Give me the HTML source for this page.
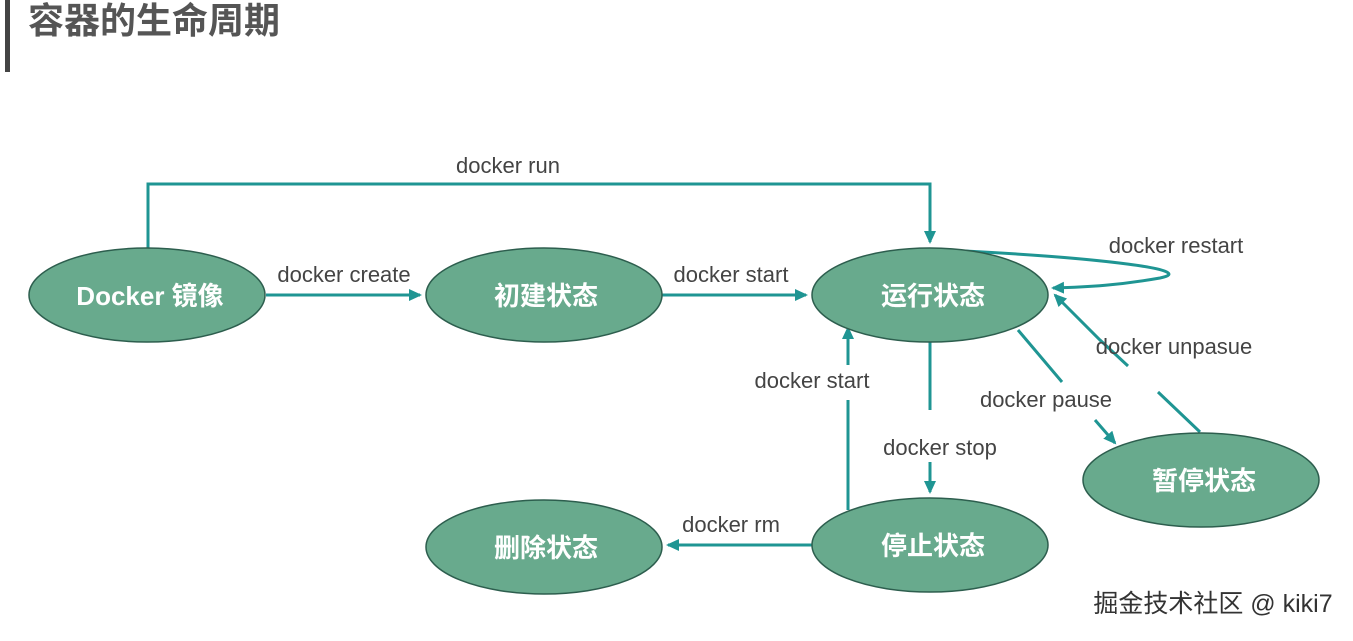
<!DOCTYPE html>
<html><head><meta charset="utf-8"><style>
body{margin:0;width:1353px;height:636px;background:#fff;overflow:hidden;font-family:"Liberation Sans","Noto Sans CJK SC",sans-serif}
</style></head><body>
<svg width="1353" height="636" xmlns="http://www.w3.org/2000/svg">
<defs><marker id="a" markerWidth="14" markerHeight="14" refX="11" refY="7" orient="auto" markerUnits="userSpaceOnUse"><path d="M0,1 L13,7 L0,13 z" fill="#1f9593"/></marker></defs>
<rect x="5" y="0" width="5" height="72" fill="#444"/>
<text x="28" y="33" font-size="36" font-weight="bold" fill="#555" font-family="Noto Sans CJK SC,sans-serif">容器的生命周期</text>
<g stroke="#1f9593" stroke-width="3" fill="none">
<path d="M148 248 V184 H930 V242" marker-end="url(#a)"/>
<path d="M266 295 H420" marker-end="url(#a)"/>
<path d="M662 295 H806" marker-end="url(#a)"/>
<path d="M965 251 C1100 258 1200 270 1160 278 C1120 285 1090 287 1053 288" marker-end="url(#a)"/>
<path d="M1200 432 L1158 392 M1128 366 L1100 340 L1055 295" marker-end="url(#a)"/>
<path d="M1018 330 L1062 382 M1095 420 L1115 443" marker-end="url(#a)"/>
<path d="M930 342 V410 M930 462 V492" marker-end="url(#a)"/>
<path d="M848 510 V400 M848 365 V328" marker-end="url(#a)"/>
<path d="M812 545 H668" marker-end="url(#a)"/>
</g>
<g fill="#68aa8d" stroke="#2d5e4e" stroke-width="1.5">
<ellipse cx="147" cy="295" rx="118" ry="47"/>
<ellipse cx="544" cy="295" rx="118" ry="47"/>
<ellipse cx="930" cy="295" rx="118" ry="47"/>
<ellipse cx="1201" cy="480" rx="118" ry="47"/>
<ellipse cx="930" cy="545" rx="118" ry="47"/>
<ellipse cx="544" cy="547" rx="118" ry="47"/>
</g>
<g fill="#fff" font-size="26" font-weight="bold" text-anchor="middle" font-family="Liberation Sans,Noto Sans CJK SC,sans-serif">
<text x="150" y="305">Docker 镜像</text>
<text x="546" y="305">初建状态</text>
<text x="933" y="305">运行状态</text>
<text x="1204" y="490">暂停状态</text>
<text x="933" y="555">停止状态</text>
<text x="546" y="557">删除状态</text>
</g>
<g fill="#444" font-size="22" text-anchor="middle">
<text x="508" y="173">docker run</text>
<text x="344" y="282">docker create</text>
<text x="731" y="282">docker start</text>
<text x="1176" y="253">docker restart</text>
<text x="1174" y="354">docker unpasue</text>
<text x="1046" y="407">docker pause</text>
<text x="812" y="388">docker start</text>
<text x="940" y="455">docker stop</text>
<text x="731" y="532">docker rm</text>
</g>
<text x="1213" y="612" font-size="25" fill="#333" text-anchor="middle">掘金技术社区 @ kiki7</text>
</svg>
</body></html>
